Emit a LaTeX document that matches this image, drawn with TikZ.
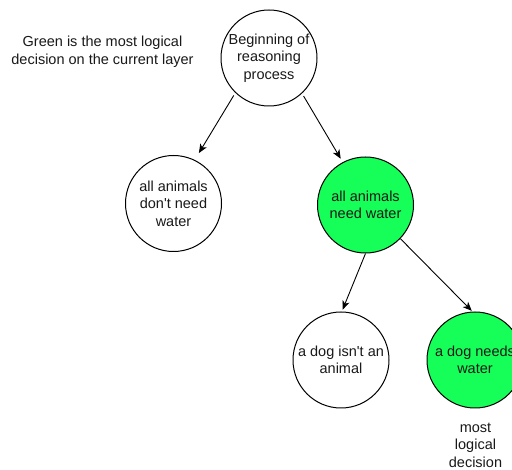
\documentclass[tikz,border=0pt]{standalone}
\usepackage{fontspec}
\newfontfamily\lsans{Liberation Sans}
\usetikzlibrary{arrows.meta}
\definecolor{choice}{RGB}{22,255,88}
\begin{document}
\begin{tikzpicture}[x=1pt,y=-1pt,
  every node/.style={font=\lsans\fontsize{14.5}{17.5}\selectfont, align=center, text=black!90},
  thought/.style={circle, draw=black, line width=1pt, minimum size=96pt, inner sep=0pt, fill=white},
  best/.style={thought, fill=choice},
  link/.style={line width=0.9pt, -{Stealth[length=9pt,width=7.5pt,inset=2.5pt]}}]
\useasboundingbox (0,0) rectangle (512,470);
\clip (0,0) rectangle (512,470);
\fill[white] (0,0) rectangle (512,470);

\node (note) at (102.5,52) {Green is the most logical\\decision on the current layer};

\node[thought] (top) at (269,58) {Beginning of\\reasoning\\process};
\node[thought] (left) at (173.5,203.5) {all animals\\don't need\\water};
\node[best] (mid) at (365.5,205) {all animals\\need water};
\node[thought] (bl) at (341,360) {a dog isn't an\\animal};
\node[best] (br) at (475,360) {a dog needs\\water};

\node (label) at (475.5,445) {most\\logical\\decision};

\draw[link, shorten <=3pt, shorten >=8pt] (top.226) -- (left.64);
\draw[link, shorten <=3pt, shorten >=4pt] (top.313) -- (mid.118);
\draw[link, shorten >=2pt] (mid.270) -- (bl.89);
\draw[link, shorten >=1pt] (mid.316) -- (br.93);
\end{tikzpicture}
\end{document}
